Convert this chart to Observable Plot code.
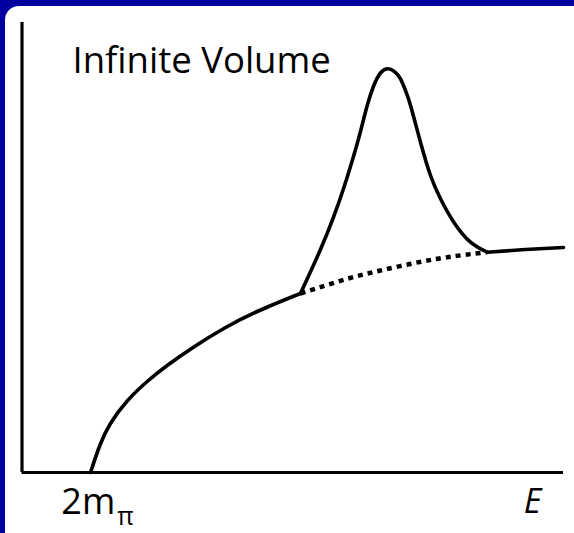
<!DOCTYPE html>
<html>
<head>
<meta charset="utf-8">
<script src="https://cdn.jsdelivr.net/npm/d3@7"></script>
<script src="https://cdn.jsdelivr.net/npm/@observablehq/plot@0.6"></script>
<style>
  html, body { margin: 0; padding: 0; }
  #frame { position: relative; width: 574px; height: 533px; background: #0000A0; overflow: hidden; }
  #panel { position: absolute; left: 5px; top: 6px; width: 600px; height: 560px; background: #fff; border-top-left-radius: 14px; border-bottom-left-radius: 6px; }
  #chart { position: absolute; left: 0; top: 0; }
  #chart svg { background: transparent !important; }
</style>
</head>
<body>
<div id="frame"><div id="panel"></div><div id="chart"></div></div>
<script>
// Background (non-resonant) rise from threshold
const bgE = [12.65, 14.37, 16.34, 19.43, 23.12, 26.81, 31.73, 37.27, 43.43, 51.43];
const bgY = [0, 6.0, 10.89, 15.89, 20.22, 23.78, 27.89, 32.0, 35.78, 39.78];
// Resonance peak
const peakE = [51.43, 55.12, 57.58, 59.43, 61.27, 62.51, 63.75, 64.97, 66.2, 67.55, 68.79, 69.9, 70.82, 71.75, 73.59, 75.44, 77.29, 79.74, 82.83, 85.91];
const peakY = [39.78, 49.56, 56.93, 63.27, 70.44, 75.78, 81.56, 86.0, 88.78, 89.71, 89.07, 87.49, 84.89, 81.56, 73.4, 66.0, 60.82, 55.62, 51.18, 48.96];
// Continuation after the resonance
const tailE = [85.91, 92.98, 100];
const tailY = [48.96, 49.56, 50];
// Dotted background under the resonance
const dotE = [51.43, 60.06, 66.2, 72.35, 78.52, 85.91];
const dotY = [39.78, 43.04, 44.89, 46.51, 47.84, 48.96];
// Labels
const titleText = "Infinite Volume";
const thresholdE = 12.7;
const thresholdLabel = "2m";
const thresholdSub = "π";
const axisLabel = "E";
const axisLabelE = 94.3;

const toRows = (xs, ys) => xs.map((x, i) => ({x, y: ys[i]}));

const font = "'Open Sans', 'DejaVu Sans', sans-serif";

const chart = Plot.plot({
  width: 574,
  height: 533,
  marginLeft: 21.5,
  marginRight: 11,
  marginTop: 22,
  marginBottom: 61,
  x: {domain: [0, 100], axis: null},
  y: {domain: [0, 100], axis: null},
  style: {background: "transparent", fontFamily: font, overflow: "visible"},
  marks: [
    Plot.line(toRows(dotE, dotY), {x: "x", y: "y", curve: "natural", stroke: "#000", strokeWidth: 4.5, strokeDasharray: "5,5", strokeLinecap: "butt"}),
    Plot.line(toRows(bgE, bgY), {x: "x", y: "y", curve: "natural", stroke: "#000", strokeWidth: 3.6}),
    Plot.line(toRows(peakE, peakY), {x: "x", y: "y", curve: "natural", stroke: "#000", strokeWidth: 3.6}),
    Plot.line(toRows(tailE, tailY), {x: "x", y: "y", curve: "natural", stroke: "#000", strokeWidth: 3.6}),
    Plot.ruleX([0], {y1: 0, y2: 100, stroke: "#000", strokeWidth: 3.2}),
    Plot.ruleY([0], {x1: 0, x2: 100, stroke: "#000", strokeWidth: 3.2}),
    Plot.text([titleText], {x: 9.33, y: 91.4, text: d => d, textAnchor: "start", lineAnchor: "middle", fontSize: 36.5, fill: "#000"}),
    Plot.text([thresholdLabel], {x: thresholdE, y: -6.62, text: d => d, textAnchor: "end", dx: 24.5, lineAnchor: "middle", fontSize: 36, fill: "#000"}),
    Plot.text([thresholdSub], {x: thresholdE, y: -9.78, text: d => d, textAnchor: "start", dx: 26.4, lineAnchor: "middle", fontSize: 25, fill: "#000"}),
    Plot.text([axisLabel], {x: axisLabelE, y: -6.62, text: d => d, textAnchor: "middle", lineAnchor: "middle", fontSize: 34, fontStyle: "italic", fill: "#000"})
  ]
});
document.getElementById("chart").appendChild(chart);
</script>
</body>
</html>
